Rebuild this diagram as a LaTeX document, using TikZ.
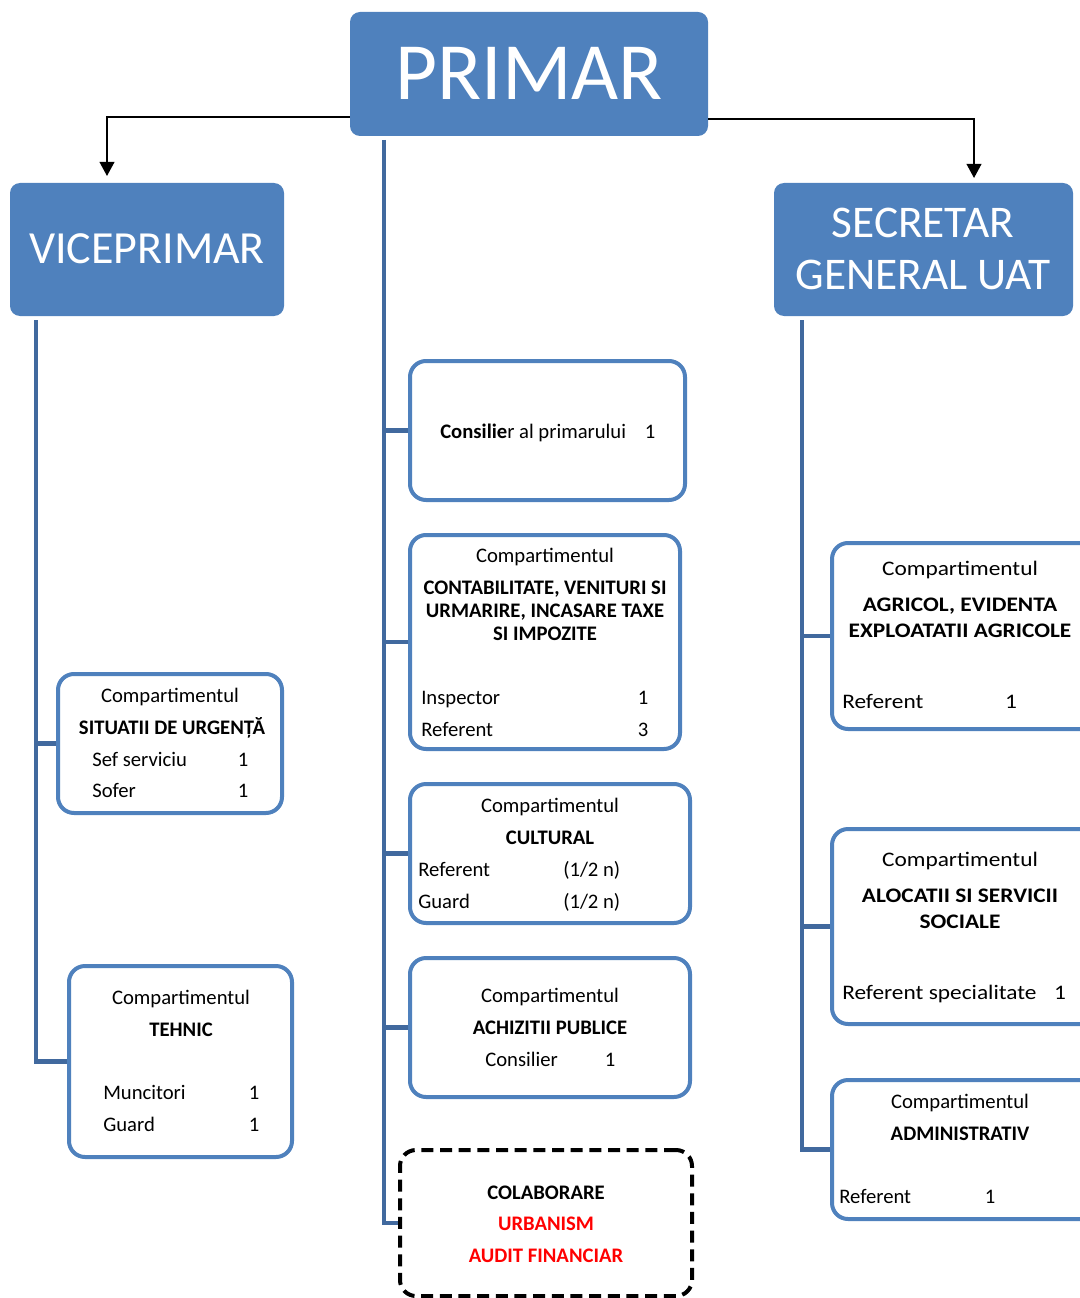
\documentclass[tikz,border=0pt]{standalone}
\usepackage{fontspec}
\setmainfont{Carlito}
\newfontfamily\widefont[FakeStretch=1.13]{Carlito}
\usetikzlibrary{arrows.meta,fit}
\definecolor{boxblue}{HTML}{4F81BD}
\definecolor{linkblue}{HTML}{41699E}
\definecolor{redtxt}{HTML}{FF0000}
\newcommand\bodyfnt{\fontsize{15.5}{17.5}\selectfont}
\begin{document}
\begin{tikzpicture}[x=0.75pt,y=-0.75pt,
  head/.style={fill=boxblue, draw=none, rounded corners=7.5pt, inner sep=0pt},
  headtxt/.style={text=white, inner sep=0pt, anchor=center},
  unit/.style={draw=boxblue, line width=3pt, fill=white, rounded corners=12pt, inner sep=0pt},
  colabbox/.style={draw=black, line width=3pt, dash pattern=on 9pt off 5pt, rounded corners=12pt, inner sep=0pt},
  conn/.style={draw=linkblue, line width=3.2pt},
  arr/.style={draw=black, line width=1.3pt, -{Triangle[width=11pt,length=10.5pt]}},
  t/.style={font=\bodyfnt, inner sep=0pt, anchor=mid, yshift=-2.2pt},
  tl/.style={t, anchor=mid west},
  tb/.style={t, font=\bodyfnt\bfseries},
  tw/.style={t, font=\bodyfnt\widefont},
  twl/.style={tw, anchor=mid west},
  twb/.style={t, font=\bodyfnt\widefont\bfseries}
]
\useasboundingbox (0,0) rectangle (1080,1298);
\clip (0,0) rectangle (1080,1298);

% ---------- head boxes ----------
\node[head, fit={(350,12) (708,136)}] (primar) {};
\node[headtxt, font=\fontsize{61}{70}\selectfont] (primar-t) at (529,73) {PRIMAR};
\node[head, fit={(10,183) (284,316)}] (vice) {};
\node[headtxt, font=\fontsize{34.5}{39}\selectfont] (vice-t) at (147,249) {VICEPRIMAR};
\node[head, fit={(774,183) (1073,316)}] (secr) {};
\node[headtxt, font=\fontsize{34}{39}\selectfont] (secr-1) at (923,223) {SECRETAR};
\node[headtxt, font=\fontsize{34}{39}\selectfont] (secr-2) at (923,275) {GENERAL UAT};

% ---------- arrows ----------
\coordinate (vtip) at (107,176);
\coordinate (stip) at (974,178);
\draw[arr] ([yshift=-32.25pt]primar.west) -| (vtip);
\draw[arr] ([yshift=-33.75pt]primar.east) -| (stip);

% ---------- centre column ----------
\node[unit, fit={(410,361) (685,500)}] (cons) {};
\node[tl] (cons-a) at (440,432) {\textbf{Consilie}r al primarului};
\node[t] (cons-n) at (650,432) {1};

\node[unit, fit={(410,535) (680,749)}] (cont) {};
\node[t] (cont-h) at (545,556) {Compartimentul};
\node[tb] (cont-1) at (545,588) {CONTABILITATE, VENITURI SI};
\node[tb] (cont-2) at (545,611) {URMARIRE, INCASARE TAXE};
\node[tb] (cont-3) at (545,634) {SI IMPOZITE};
\node[tl] (cont-a) at (421,698) {Inspector};
\node[t] (cont-an) at (643,698) {1};
\node[tl] (cont-b) at (421,730) {Referent};
\node[t] (cont-bn) at (643,730) {3};

\node[unit, fit={(410,784) (690,923)}] (cult) {};
\node[t] (cult-h) at (550,806) {Compartimentul};
\node[tb] (cult-1) at (550,838) {CULTURAL};
\node[tl] (cult-a) at (418,870) {Referent};
\node[tl] (cult-an) at (563,870) {(1/2 n)};
\node[tl] (cult-b) at (418,902) {Guard};
\node[tl] (cult-bn) at (563,902) {(1/2 n)};

\node[unit, fit={(410,958) (690,1097)}] (achiz) {};
\node[t] (achiz-h) at (550,996) {Compartimentul};
\node[tb] (achiz-1) at (550,1028) {ACHIZITII PUBLICE};
\node[tl] (achiz-a) at (485,1060) {Consilier};
\node[t] (achiz-an) at (610,1060) {1};

\node[colabbox, fit={(400,1150) (692,1296)}] (colab) {};
\node[tb] (colab-1) at (546,1193) {COLABORARE};
\node[tb, text=redtxt] (colab-2) at (546,1224) {URBANISM};
\node[tb, text=redtxt] (colab-3) at (546,1256) {AUDIT FINANCIAR};

% ---------- left column ----------
\node[unit, fit={(58,674) (282,813)}] (sit) {};
\node[t] (sit-h) at (170,696) {Compartimentul};
\node[tb] (sit-1) at (172,728) {SITUATII DE URGENȚĂ};
\node[tl] (sit-a) at (92,760) {Sef serviciu};
\node[t] (sit-an) at (243,760) {1};
\node[tl] (sit-b) at (92,791) {Sofer};
\node[t] (sit-bn) at (243,791) {1};

\node[unit, fit={(69,966) (292,1157)}] (tehn) {};
\node[t] (tehn-h) at (181,998) {Compartimentul};
\node[tb] (tehn-1) at (181,1030) {TEHNIC};
\node[tl] (tehn-a) at (103,1093) {Muncitori};
\node[t] (tehn-an) at (254,1093) {1};
\node[tl] (tehn-b) at (103,1125) {Guard};
\node[t] (tehn-bn) at (254,1125) {1};

% ---------- right column ----------
\node[unit, fit={(832,543) (1100,729)}] (agr) {};
\node[tw] (agr-h) at (960,569) {Compartimentul};
\node[twb] (agr-1) at (960,605) {AGRICOL, EVIDENTA};
\node[twb] (agr-2) at (960,631) {EXPLOATATII AGRICOLE};
\node[twl] (agr-a) at (842,702) {Referent};
\node[tw] (agr-an) at (1011,702) {1};

\node[unit, fit={(832,829) (1100,1024)}] (aloc) {};
\node[tw] (aloc-h) at (960,860) {Compartimentul};
\node[twb] (aloc-1) at (960,896) {ALOCATII SI SERVICII};
\node[twb] (aloc-2) at (960,922) {SOCIALE};
\node[twl] (aloc-a) at (842,993) {Referent specialitate};
\node[tw] (aloc-an) at (1060,993) {1};

\node[unit, fit={(832,1080) (1100,1219)}] (adm) {};
\node[t] (adm-h) at (960,1102) {Compartimentul};
\node[tb] (adm-1) at (960,1134) {ADMINISTRATIV};
\node[tl] (adm-a) at (839,1197) {Referent};
\node[t] (adm-an) at (990,1197) {1};

% ---------- trunk connectors ----------
\coordinate (ctop) at (384,140);
\draw[conn] (ctop) |- (colab.west);
\draw[conn] (ctop |- cons.west) -- (cons.west);
\draw[conn] (ctop |- cont.west) -- (cont.west);
\draw[conn] (ctop |- cult.west) -- (cult.west);
\draw[conn] (ctop |- achiz.west) -- (achiz.west);

\coordinate (ltop) at (36,320);
\draw[conn] (ltop) |- (tehn.west);
\draw[conn] (ltop |- sit.west) -- (sit.west);

\coordinate (rtop) at (802,320);
\draw[conn] (rtop) |- (adm.west);
\draw[conn] (rtop |- agr.west) -- (agr.west);
\draw[conn] (rtop |- aloc.west) -- (aloc.west);
\end{tikzpicture}
\end{document}
